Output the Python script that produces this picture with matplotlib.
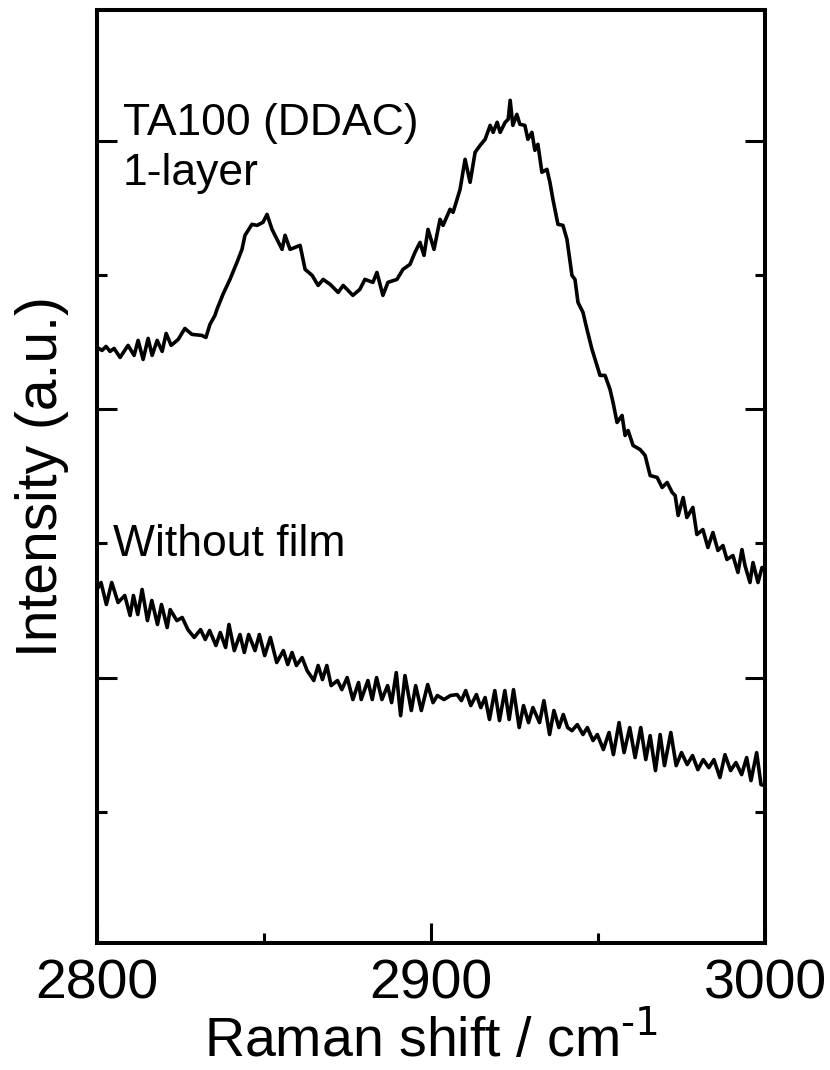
import numpy as np
import matplotlib
matplotlib.use("Agg")
import matplotlib.pyplot as plt
from matplotlib.ticker import MultipleLocator

plt.rcParams.update({
    "font.family": ["Liberation Sans", "DejaVu Sans"],
    "font.size": 40,
    "axes.linewidth": 2.9,
})

# Raman shift (cm-1) and intensity (a.u.)
film_x = [2800.0, 2801.5, 2802.7, 2803.9, 2805.1, 2806.9, 2809.3, 2811.1, 2812.3, 2813.8,
          2815.3, 2816.5, 2818.0, 2819.5, 2820.7, 2822.2, 2824.3, 2826.3, 2828.4, 2831.4,
          2832.6, 2833.8, 2835.3, 2835.9, 2837.7, 2839.8, 2841.9, 2843.4, 2844.3, 2846.4,
          2847.9, 2849.7, 2850.9, 2852.4, 2853.9, 2855.4, 2856.3, 2857.8, 2860.8, 2862.3,
          2864.4, 2866.2, 2867.7, 2869.8, 2872.2, 2873.7, 2876.6, 2878.7, 2880.2, 2882.6,
          2883.8, 2885.6, 2887.1, 2889.8, 2891.6, 2893.7, 2895.2, 2896.7, 2897.9, 2899.1,
          2900.9, 2902.7, 2903.6, 2905.7, 2906.6, 2908.7, 2910.2, 2911.7, 2913.2, 2914.7,
          2916.2, 2917.7, 2918.6, 2919.8, 2920.7, 2922.2, 2923.1, 2923.7, 2924.5, 2925.7,
          2926.6, 2928.1, 2929.0, 2930.2, 2931.1, 2932.0, 2933.2, 2934.7, 2935.6, 2936.5,
          2938.0, 2939.5, 2940.7, 2942.2, 2943.1, 2944.0, 2945.5, 2946.7, 2948.2, 2950.6,
          2952.1, 2953.6, 2954.5, 2955.7, 2957.2, 2958.1, 2959.0, 2960.5, 2962.6, 2964.1,
          2965.6, 2967.7, 2969.2, 2970.7, 2972.2, 2973.1, 2974.0, 2975.5, 2976.6, 2978.4,
          2979.6, 2981.4, 2982.9, 2984.4, 2985.9, 2987.4, 2988.6, 2990.4, 2991.9, 2993.1,
          2994.0, 2995.5, 2996.4, 2997.9, 2999.1, 3000.0]
film_y = [4.463, 4.440, 4.470, 4.433, 4.455, 4.388, 4.478, 4.403, 4.515, 4.373,
          4.530, 4.403, 4.515, 4.433, 4.567, 4.478, 4.522, 4.604, 4.560, 4.552,
          4.537, 4.634, 4.701, 4.746, 4.858, 4.970, 5.097, 5.194, 5.299, 5.381,
          5.373, 5.396, 5.455, 5.343, 5.269, 5.194, 5.299, 5.194, 5.224, 5.045,
          5.000, 4.925, 4.970, 4.933, 4.873, 4.925, 4.851, 4.896, 4.970, 4.948,
          5.022, 4.851, 4.948, 4.970, 5.045, 5.082, 5.172, 5.246, 5.149, 5.343,
          5.194, 5.418, 5.373, 5.493, 5.470, 5.642, 5.866, 5.694, 5.918, 5.970,
          6.015, 6.119, 6.067, 6.142, 6.067, 6.142, 6.164, 6.306, 6.119, 6.201,
          6.127, 6.119, 6.015, 6.067, 5.933, 5.978, 5.769, 5.791, 5.694, 5.567,
          5.381, 5.373, 5.269, 5.000, 4.970, 4.799, 4.724, 4.597, 4.448, 4.254,
          4.254, 4.149, 4.052, 3.903, 3.955, 3.806, 3.843, 3.731, 3.701, 3.657,
          3.507, 3.493, 3.418, 3.455, 3.381, 3.358, 3.209, 3.343, 3.194, 3.269,
          3.067, 3.104, 2.970, 3.082, 2.948, 2.985, 2.881, 2.910, 2.784, 2.955,
          2.836, 2.709, 2.858, 2.709, 2.821, 2.806]

bare_x = [2800.0, 2801.2, 2802.8, 2804.4, 2806.3, 2808.3, 2809.9, 2810.9, 2812.2, 2813.5,
          2815.1, 2816.4, 2818.1, 2819.3, 2821.0, 2821.9, 2823.9, 2825.5, 2827.2, 2829.1,
          2831.0, 2832.4, 2833.7, 2835.6, 2836.9, 2838.5, 2839.5, 2841.1, 2842.8, 2844.1,
          2845.4, 2847.3, 2848.6, 2850.2, 2851.9, 2853.8, 2855.8, 2857.1, 2858.4, 2859.7,
          2861.4, 2862.9, 2864.9, 2866.2, 2867.5, 2868.8, 2870.1, 2872.0, 2873.3, 2874.9,
          2876.6, 2878.3, 2879.1, 2881.1, 2882.4, 2883.7, 2885.3, 2887.0, 2888.2, 2889.6,
          2890.9, 2892.2, 2894.1, 2895.4, 2897.1, 2899.0, 2900.6, 2901.9, 2903.9, 2905.8,
          2907.8, 2909.1, 2910.4, 2911.9, 2913.6, 2914.9, 2916.2, 2917.5, 2919.1, 2920.5,
          2922.1, 2923.4, 2924.7, 2926.4, 2927.7, 2929.2, 2930.5, 2932.5, 2933.8, 2935.5,
          2936.8, 2938.3, 2939.6, 2940.9, 2942.2, 2943.8, 2945.5, 2946.8, 2948.5, 2949.8,
          2951.6, 2953.3, 2954.6, 2956.3, 2957.8, 2959.5, 2961.1, 2962.8, 2964.3, 2965.6,
          2967.2, 2968.6, 2969.9, 2971.8, 2973.4, 2975.0, 2976.7, 2978.3, 2979.9, 2981.5,
          2983.2, 2984.7, 2986.5, 2988.0, 2989.7, 2991.3, 2993.0, 2994.5, 2995.8, 2997.5,
          2998.8, 3000.0]
bare_y = [2.657, 2.709, 2.545, 2.709, 2.560, 2.612, 2.463, 2.612, 2.470, 2.657,
          2.425, 2.575, 2.396, 2.545, 2.373, 2.507, 2.425, 2.448, 2.358, 2.299,
          2.358, 2.284, 2.351, 2.239, 2.336, 2.224, 2.396, 2.201, 2.321, 2.187,
          2.321, 2.201, 2.321, 2.164, 2.299, 2.112, 2.201, 2.097, 2.187, 2.090,
          2.149, 2.052, 1.978, 2.090, 1.985, 2.090, 1.940, 1.978, 1.910, 2.000,
          1.836, 1.963, 1.836, 1.978, 1.836, 2.000, 1.836, 1.940, 1.813, 2.037,
          1.716, 2.015, 1.754, 1.940, 1.754, 1.948, 1.813, 1.866, 1.836, 1.866,
          1.873, 1.828, 1.903, 1.791, 1.873, 1.776, 1.851, 1.687, 1.903, 1.679,
          1.903, 1.687, 1.910, 1.627, 1.791, 1.664, 1.776, 1.664, 1.828, 1.575,
          1.754, 1.627, 1.724, 1.627, 1.604, 1.649, 1.575, 1.627, 1.530, 1.575,
          1.463, 1.590, 1.425, 1.664, 1.440, 1.627, 1.403, 1.627, 1.388, 1.567,
          1.306, 1.575, 1.343, 1.590, 1.343, 1.440, 1.351, 1.418, 1.313, 1.388,
          1.328, 1.388, 1.254, 1.425, 1.306, 1.366, 1.276, 1.403, 1.231, 1.440,
          1.201, 1.194]

fig = plt.figure(figsize=(8.3, 10.7), dpi=100)
ax = fig.add_axes([0.1169, 0.1187, 0.8048, 0.872])

ax.plot(film_x, film_y, color="black", lw=2.6, solid_joinstyle="round")
ax.plot(bare_x, bare_y, color="black", lw=2.6, solid_joinstyle="round")

ax.set_xlim(2800, 3000)
ax.set_ylim(0.02, 6.98)
ax.xaxis.set_major_locator(MultipleLocator(100))
ax.xaxis.set_minor_locator(MultipleLocator(50))
ax.yaxis.set_major_locator(MultipleLocator(2))
ax.yaxis.set_minor_locator(MultipleLocator(1))
ax.tick_params(which="both", direction="in", width=2.2, top=False, right=True,
               labelleft=False)
ax.tick_params(axis="x", which="both", pad=11)
ax.tick_params(which="major", length=14.4)
ax.tick_params(which="minor", length=7.2)

ax.set_xlabel("Raman shift / cm$^{\\text{-1}}$", fontsize=40, labelpad=1)
ax.set_ylabel("Intensity (a.u.)", fontsize=41, labelpad=20)

ax.text(2807.8, 6.045, "TA100 (DDAC)", fontsize=32, ha="left", va="baseline")
ax.text(2807.8, 5.672, "1-layer", fontsize=32, ha="left", va="baseline")
ax.text(2804.8, 2.91, "Without film", fontsize=32, ha="left", va="baseline")

fig.savefig("out.png", dpi=100)
